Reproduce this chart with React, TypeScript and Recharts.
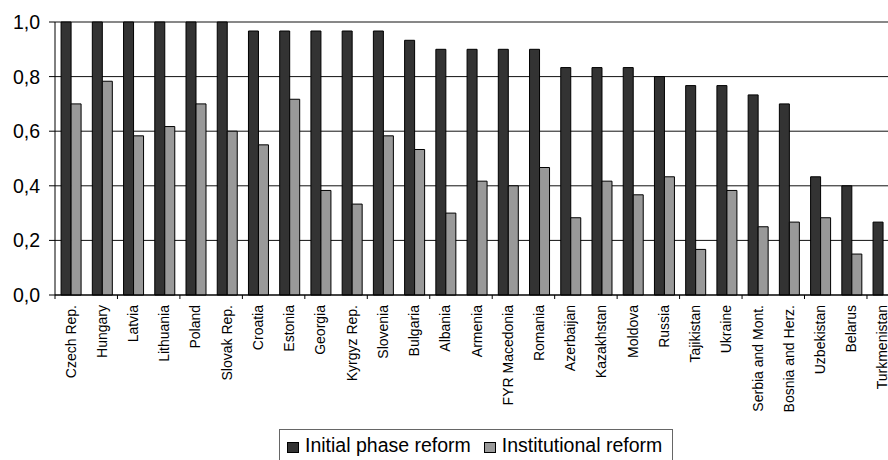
import React from 'react';
import { Bar, BarChart, CartesianGrid, XAxis, YAxis } from 'recharts';

const countries = [
  'Czech Rep.', 'Hungary', 'Latvia', 'Lithuania', 'Poland', 'Slovak Rep.', 'Croatia',
  'Estonia', 'Georgia', 'Kyrgyz Rep.', 'Slovenia', 'Bulgaria', 'Albania', 'Armenia',
  'FYR Macedonia', 'Romania', 'Azerbaijan', 'Kazakhstan', 'Moldova', 'Russia',
  'Tajikistan', 'Ukraine', 'Serbia and Mont.', 'Bosnia and Herz.', 'Uzbekistan',
  'Belarus', 'Turkmenistan',
];

const initialPhase = [
  1.0, 1.0, 1.0, 1.0, 1.0, 1.0, 0.967, 0.967, 0.967, 0.967, 0.967, 0.933, 0.9, 0.9,
  0.9, 0.9, 0.833, 0.833, 0.833, 0.8, 0.767, 0.767, 0.733, 0.7, 0.433, 0.4, 0.267,
];

const institutional = [
  0.7, 0.783, 0.583, 0.617, 0.7, 0.6, 0.55, 0.717, 0.383, 0.333, 0.583, 0.533, 0.3,
  0.417, 0.4, 0.467, 0.283, 0.417, 0.367, 0.433, 0.167, 0.383, 0.25, 0.267, 0.283,
  0.15, 0,
];

const yTicks = [0, 0.2, 0.4, 0.6, 0.8, 1.0];

const data = countries.map((c, i) => ({
  name: c,
  initial: initialPhase[i],
  inst: institutional[i],
}));

const FONT = '"Liberation Sans", Arial, sans-serif';
const PLOT_W = 843.2;
const CAT_W = PLOT_W / countries.length;

function XTick(props: any) {
  const { x, y, payload, index } = props;
  const half = CAT_W / 2;
  return (
    <g>
      {index % 2 === 0 && (
        <line x1={x - half} x2={x - half} y1={y} y2={y + 4} stroke="#000" />
      )}
      <text
        transform={`translate(${x},${y + 10}) rotate(-90)`}
        textAnchor="end"
        dy="0.35em"
        fontSize={14}
        fontFamily={FONT}
        fill="#000"
      >
        {payload.value}
      </text>
    </g>
  );
}

function LegendBox() {
  const item = (color: string, label: string, ml: number) => (
    <div style={{ display: 'flex', alignItems: 'center', marginLeft: ml }}>
      <span
        style={{
          display: 'inline-block',
          width: 12,
          height: 11,
          background: color,
          border: '1px solid #000',
          boxSizing: 'border-box',
          marginRight: 6,
          position: 'relative',
          top: 2,
        }}
      />
      <span>{label}</span>
    </div>
  );
  return (
    <div
      style={{
        position: 'absolute',
        left: 279,
        top: 429,
        width: 394,
        height: 40,
        border: '1px solid #666',
        boxSizing: 'border-box',
        display: 'flex',
        alignItems: 'flex-start',
        paddingTop: 4,
        paddingLeft: 7,
        fontFamily: FONT,
        fontSize: 19.5,
        color: '#000',
        background: '#fff',
      }}
    >
      {item('#333333', 'Initial phase reform', 0)}
      {item('#999999', 'Institutional reform', 13)}
    </div>
  );
}

export default function App() {
  return (
    <div
      style={{
        position: 'absolute',
        left: 0,
        top: 0,
        width: 888,
        height: 460,
        overflow: 'hidden',
        background: '#fff',
      }}
    >
      <BarChart
        width={905}
        height={460}
        data={data}
        margin={{ top: 22, right: 905 - 55 - PLOT_W, left: 0, bottom: 0 }}
        barCategoryGap="19.5%"
        barGap={0}
      >
        <CartesianGrid vertical={false} stroke="#111" strokeDasharray="" />
        <XAxis
          dataKey="name"
          interval={0}
          height={165}
          tickSize={0}
          tickMargin={0}
          tickLine={false}
          axisLine={{ stroke: '#000' }}
          tick={<XTick />}
        />
        <YAxis
          width={55}
          domain={[0, 1]}
          ticks={yTicks}
          tickSize={6}
          tickMargin={9}
          axisLine={{ stroke: '#000' }}
          tickLine={{ stroke: '#000' }}
          tick={{ fill: '#000', fontSize: 19.5, fontFamily: FONT }}
          tickFormatter={(v: number) => v.toFixed(1).replace('.', ',')}
        />
        <Bar dataKey="initial" fill="#333333" stroke="#000" strokeWidth={1} isAnimationActive={false} />
        <Bar dataKey="inst" fill="#999999" stroke="#000" strokeWidth={1} isAnimationActive={false} />
      </BarChart>
      <LegendBox />
    </div>
  );
}
